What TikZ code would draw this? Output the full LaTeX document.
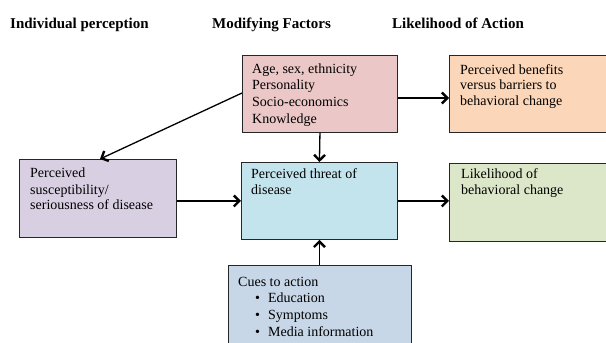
\documentclass[tikz,border=0pt]{standalone}
\usepackage{fontspec}
\setmainfont{Liberation Serif}
\usetikzlibrary{arrows.meta,calc}
\definecolor{pinkf}{RGB}{236,199,199}
\definecolor{orangef}{RGB}{252,214,184}
\definecolor{greenf}{RGB}{220,230,200}
\definecolor{purplef}{RGB}{216,208,226}
\definecolor{bluef}{RGB}{196,228,237}
\definecolor{cuesf}{RGB}{199,215,232}
\newcommand{\boxlines}[1]{\begin{tabular}[t]{@{}l@{}}#1\end{tabular}}
\begin{document}
\begin{tikzpicture}[x=1pt,y=-1pt,
  box/.style={draw=black!85, line width=0.9pt, anchor=north west, inner sep=0pt},
  txt/.style={anchor=base west, inner sep=0pt, font=\fontsize{14}{16.9}\selectfont},
  heading/.style={anchor=base west, inner sep=0pt, font=\fontsize{15}{18}\selectfont\bfseries},
  arr/.style={line width=1.3pt, -{Straight Barb[length=5.5pt,width=11pt,line width=2.4pt]}}]
\clip (0,0) rectangle (606,343);
\fill[white] (0,0) rectangle (606,343);
% headings
\node[heading] (h1) at (10,28) {Individual perception};
\node[heading] (h2) at (212,28) {Modifying Factors};
\node[heading] (h3) at (392,28) {Likelihood of Action};
% boxes
\node[box, fill=pinkf, minimum width=155pt, minimum height=77pt] (pink) at (242,55) {};
\node[box, fill=orangef, minimum width=156.5pt, minimum height=77pt] (orange) at (449,55) {};
\node[box, fill=purplef, minimum width=157pt, minimum height=78pt] (purple) at (19,159) {};
\node[box, fill=bluef, minimum width=156pt, minimum height=77pt] (blue) at (241,162) {};
\node[box, fill=greenf, minimum width=156.5pt, minimum height=78pt] (green) at (449,163) {};
\node[box, fill=cuesf, minimum width=183pt, minimum height=100pt] (cues) at (228,265) {};
% texts
\node[txt] (tpink) at (252,73) {\boxlines{Age, sex, ethnicity\\Personality\\Socio-economics\\Knowledge}};
\node[txt, font=\fontsize{14}{15.7}\selectfont] (torange) at (460,74) {\boxlines{Perceived benefits\\versus barriers to\\behavioral change}};
\node[txt] (tgreen) at (461,178) {\boxlines{Likelihood of\\behavioral change}};
\node[txt] (tblue) at (251,178) {\boxlines{Perceived threat of\\disease}};
\node[txt] (tpurple) at (30,177) {\boxlines{Perceived\\[0.4pt]susceptibility/\\[-1.7pt]seriousness of disease}};
\node[txt] (tcues) at (238,286) {\boxlines{Cues to action\\
  \hspace{17pt}\textbullet\hspace{8pt}Education\\
  \hspace{17pt}\textbullet\hspace{8pt}Symptoms\\
  \hspace{17pt}\textbullet\hspace{8pt}Media information}};
% arrows
\draw[arr] ($(pink.north west)+(0,38)$) -- ($(purple.north west)+(81,0)$);
\draw[arr] ($(pink.north east)+(0,43)$) -- ($(orange.north west)+(0,43)$);
\draw[arr] (pink.south) -- (blue.north);
\draw[arr] (blue.west -| purple.east) -- (blue.west);
\draw[arr] (blue.east) -- (blue.east -| green.west);
\draw[arr] (cues.north -| blue.south) -- (blue.south);
\end{tikzpicture}
\end{document}
